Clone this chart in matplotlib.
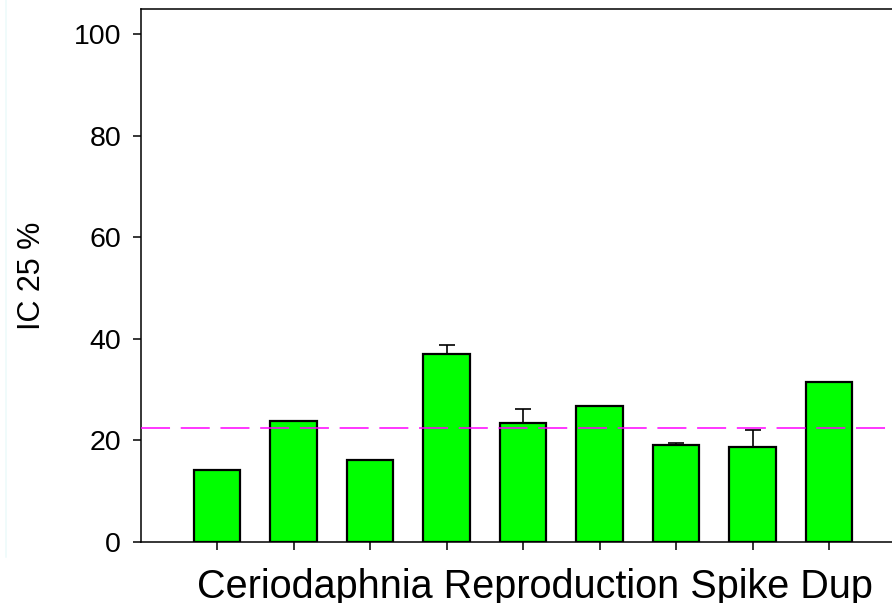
import numpy as np
import matplotlib.pyplot as plt
from matplotlib.lines import Line2D

plt.rcParams['font.family'] = ['Liberation Sans', 'DejaVu Sans']

# values
positions = [1, 2, 3, 4, 5, 6, 7, 8, 9]
ic25 = [14.2, 23.9, 16.2, 37.0, 23.5, 26.7, 19.2, 18.8, 31.6]
upper_err = [0, 0, 0, 1.9, 2.7, 0, 0.3, 3.3, 0]
reference_line = 22.4
y_ticks = [0, 20, 40, 60, 80, 100]

fig = plt.figure(figsize=(8.92, 6.03), dpi=100)
ax = fig.add_axes([140.5 / 892, 61 / 603, 765 / 892, 533 / 603])

ax.bar(positions, ic25, width=0.61, color='#00ff00', edgecolor='black', linewidth=1.6, zorder=2)

# upper error bars only where there is one
err_x = [p for p, e in zip(positions, upper_err) if e > 0]
err_y = [v for v, e in zip(ic25, upper_err) if e > 0]
err_e = [e for e in upper_err if e > 0]
ax.errorbar(err_x, err_y, yerr=[np.zeros(len(err_e)), err_e], fmt='none',
            ecolor='black', elinewidth=1.2, capsize=6, capthick=1.2, zorder=1)

ax.axhline(reference_line, color='#ff00ff', linewidth=1.1, dashes=(19, 7), zorder=3)

ax.set_xlim(0, 10)
ax.set_ylim(0, 105)
ax.set_xticks(positions)
ax.set_xticklabels([])
ax.set_yticks(y_ticks)
ax.tick_params(axis='both', direction='out', length=6, width=1.1, labelsize=20.5, pad=8)
for s in ['left', 'bottom', 'top']:
    ax.spines[s].set_linewidth(1.1)
ax.spines['right'].set_visible(False)

ax.set_ylabel('IC 25 %', fontsize=22)
ax.yaxis.set_label_coords(-94 / 765, 0.5)
fig.text(535 / 892, 5 / 603, 'Ceriodaphnia Reproduction Spike Dup', fontsize=28.5,
         ha='center', va='baseline')

# faint line near the left edge of the picture
fig.add_artist(Line2D([6 / 892, 6 / 892], [46 / 603, 1.0], color='#eefbfb', linewidth=1.2))

fig.savefig('out.png', dpi=100)
